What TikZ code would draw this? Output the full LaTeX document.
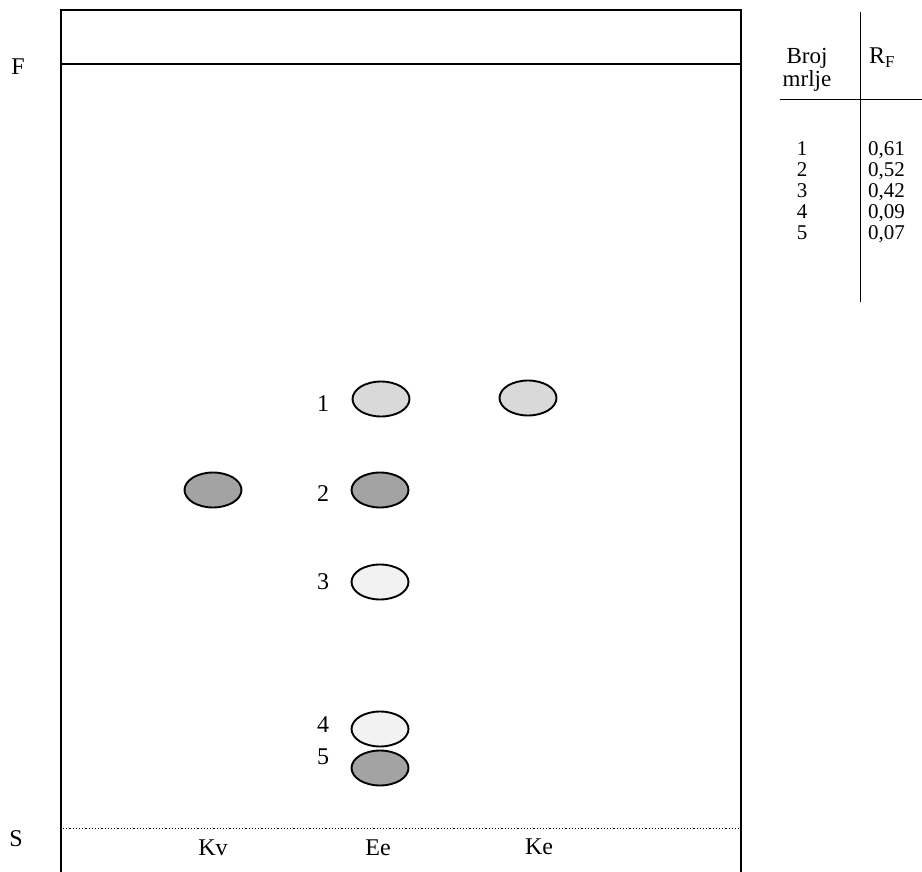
\documentclass[tikz,border=0pt]{standalone}
\usepackage{fontspec}
\setmainfont{Liberation Serif}
\usetikzlibrary{shapes.geometric}
\begin{document}
\begin{tikzpicture}[x=1pt,y=-1pt,
  every node/.style={font=\fontsize{24}{26}\selectfont, inner sep=0pt},
  col/.style={font=\fontsize{21}{21.1}\selectfont},
  hcol/.style={font=\fontsize{23}{23}\selectfont},
  spot/.style={draw=black, line width=1.9pt, ellipse, minimum width=57pt, minimum height=35pt},
  light/.style={spot, fill=black!15},
  dark/.style={spot, fill=black!36},
  pale/.style={spot, fill=black!5},
  frame/.style={line width=1.1pt},
  tabline/.style={line width=1pt}]
\useasboundingbox (0,0) rectangle (922,872);
% plate
\coordinate (pbl) at (61,872);
\coordinate (ptl) at (61,10);
\coordinate (ptr) at (741,10);
\coordinate (pbr) at (741,872);
\draw[frame] (pbl) -- (ptl) -- (ptr) -- (pbr);
\coordinate (fl) at (61,64);
\coordinate (fr) at (741,64);
\draw[frame] (fl) -- (fr);
\coordinate (sl) at (63,828);
\coordinate (sr) at (739,828);
\draw[line width=1pt, dash pattern=on 1.2pt off 2pt] (sl) -- (sr);
\node (F) at (18,67) {F};
\node (S) at (16,839) {S};
\node (Kv) at (213,848) {Kv};
\node (Ee) at (378,848) {Ee};
\node (Ke) at (539,847) {Ke};
% spots
\node[light] (e1) at (381,399) {};
\node[light] (k1) at (528,398) {};
\node[dark] (v2) at (213,490) {};
\node[dark] (e2) at (380,490) {};
\node[pale] (e3) at (380,582) {};
\node[pale] (e4) at (380,729) {};
\node[dark] (e5) at (380,768) {};
\node (l1) at (323,404) {1};
\node (l2) at (323,494) {2};
\node (l3) at (323,582) {3};
\node (l4) at (323,725) {4};
\node (l5) at (323,757) {5};
% table
\coordinate (tvt) at (860,12);
\coordinate (tvb) at (860,302);
\draw[tabline] (tvt) -- (tvb);
\coordinate (thl) at (780,100);
\coordinate (thr) at (922,100);
\draw[tabline] (thl) -- (thr);
\node[hcol, align=center, anchor=north] (hd) at (807,48) {Broj\\mrlje};
\node[anchor=west] (rf) at (869,58) {R\textsubscript{F}};
\node[col, align=center, anchor=north] (nums) at (802,141) {1\\2\\3\\4\\5};
\node[col, align=left, anchor=north west] (vals) at (868,141) {0,61\\0,52\\0,42\\0,09\\0,07};
\end{tikzpicture}
\end{document}
